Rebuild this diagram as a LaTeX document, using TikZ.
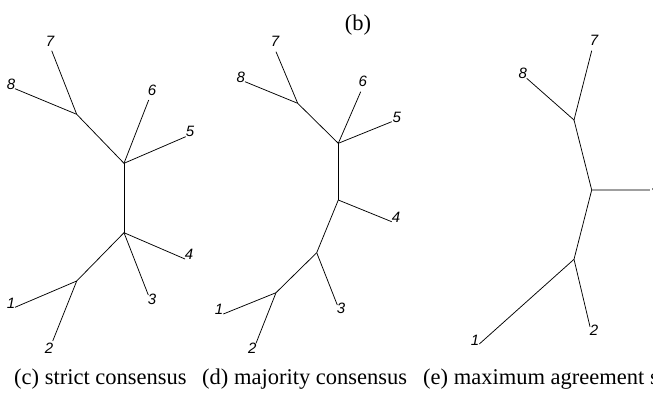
\documentclass[tikz,border=0pt]{standalone}
\usepackage{fontspec}
\setmainfont{Liberation Serif}
\newfontfamily\tipfont{Liberation Sans}
\usetikzlibrary{positioning}
\tikzset{
  br/.style={line width=.75pt, draw=black},
  brg/.style={line width=1.6pt, draw=gray!75},
  tip/.style={font=\tipfont\itshape\fontsize{15}{15}\selectfont, inner sep=0pt},
  subcap/.style={font=\fontsize{22.5}{26}\selectfont, anchor=base west, inner sep=0pt},
}
\begin{document}
\begin{tikzpicture}[x=1pt, y=-1pt]
  \useasboundingbox (0,0) rectangle (653,392);
  \clip (0,0) rectangle (653,392);
  % (c) strict consensus
  \foreach \n/\x/\y in {cA/76.7/114.3, cB/124/163.3, cC/124/232.7, cD/76.7/281,
      c7/51.7/50.7, c8/15/88.7, c6/148.7/100, c5/185.7/136.7,
      c4/185/259, c3/148.3/295, c1/15/307.3, c2/52.7/341}
    \coordinate (\n) at (\x,\y);
  \foreach \a/\b in {c7/cA, c8/cA, cA/cB, c6/cB, c5/cB, cB/cC, c4/cC, c3/cC, cC/cD, c1/cD, c2/cD}
    \draw[br] (\a) -- (\b);
  \foreach \n/\x/\y/\t in {c7t/50/41/7, c8t/11/84/8, c6t/152/90/6, c5t/190/131/5,
      c4t/189/254/4, c3t/152/299/3, c1t/11/303/1, c2t/49/348/2}
    \node[tip] (\n) at (\x,\y) {\t};
  % (d) majority consensus
  \foreach \n/\x/\y in {dA/297.7/103.3, dB/338.3/143.3, dC/338.3/200, dE/316.7/252.7, dD/276/292.7,
      d7/276/51.7, d8/245/81.7, d6/360.7/91.7, d5/391.7/121.7,
      d4/391.7/221.7, d3/337.3/305, d1/223.3/314, d2/256/343.3}
    \coordinate (\n) at (\x,\y);
  \foreach \a/\b in {d7/dA, d8/dA, dA/dB, d6/dB, d5/dB, dB/dC, d4/dC, dC/dE, d3/dE, dE/dD, d1/dD, d2/dD}
    \draw[br] (\a) -- (\b);
  \foreach \n/\x/\y/\t in {d7t/275/41/7, d8t/240.7/77.7/8, d6t/362.7/81/6, d5t/396.7/117.3/5,
      d4t/396/217.3/4, d3t/341/308.3/3, d1t/219/309/1, d2t/252.3/348.3/2}
    \node[tip] (\n) at (\x,\y) {\t};
  % (e) maximum agreement subtree
  \foreach \n/\x/\y in {eA/574/120, eB/591.7/190, eD/574/259.3,
      e7/591.7/50.7, e8/526.7/78.3, e3/650/190, e1/479.3/344, e2/590/326.7}
    \coordinate (\n) at (\x,\y);
  \foreach \a/\b in {e7/eA, e8/eA, eA/eB, eB/eD, e1/eD, e2/eD}
    \draw[br] (\a) -- (\b);
  \draw[brg] (eB) -- (e3);
  \foreach \n/\x/\y/\t in {e7t/594/40.7/7, e8t/522.7/73.3/8, e3t/656/186/3,
      e1t/475/340/1, e2t/594/330.7/2}
    \node[tip] (\n) at (\x,\y) {\t};
  % captions
  \node[subcap, anchor=base] (capb) at (358,30) {(b)};
  \node[subcap] (capc) at (14,384) {(c) strict consensus};
  \node[subcap] (capd) at (202,384) {(d) majority consensus};
  \node[subcap] (cape) at (423,384) {(e) maximum agreement subtree};
\end{tikzpicture}
\end{document}
